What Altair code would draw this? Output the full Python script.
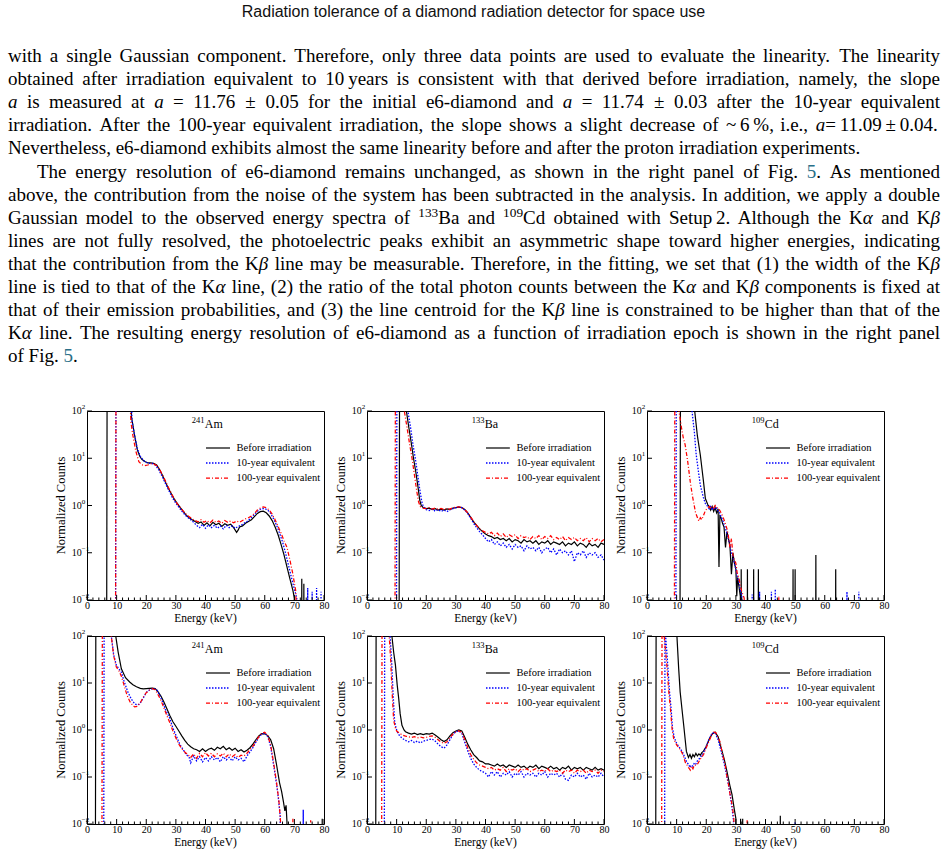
import altair as alt
import pandas as pd

# ---------------------------------------------------------------- spectra
LOW = 1e-4    # empty bins, fall below the 10^-2 floor
HIGH = 1e3    # saturated bins, rise above the 10^2 ceiling

SERIES = ["Before irradiation", "10-year equivalent", "100-year equivalent"]
COLORS = ["#000000", "#0000ff", "#ff0000"]
DASHES = [None, [1.5, 1.5], [4, 2, 1, 2]]
WIDTHS = [1.2, 1.3, 1.25]

# 241Am, upper row
AM1_BEFORE = [(6.6, LOW), (6.8, HIGH), (14.5, HIGH), (15.0, 75), (15.5, 50), (16, 32), (17, 15), (17.8, 11), (18.5, 9.5), (19.5, 8.5), (20.5, 8.0), (21.5, 8.0), (22.5, 7.8), (23.5, 7.2), (24.5, 5.8), (25.5, 4.3), (26.5, 3.1), (27.5, 2.3), (28.5, 1.75), (29.5, 1.35), (30.5, 1.1), (31.5, 0.9), (32.5, 0.75), (33.5, 0.62), (34.5, 0.55), (35.5, 0.5), (36.5, 0.46), (37.5, 0.42), (38.5, 0.45), (39.5, 0.38), (40.5, 0.43), (41.5, 0.37), (42.5, 0.44), (43.5, 0.39), (44.5, 0.42), (45.5, 0.36), (46.5, 0.41), (47.5, 0.38), (48.5, 0.40), (49.5, 0.34), (50.5, 0.27), (51.0, 0.30), (51.5, 0.35), (52.5, 0.37), (53.5, 0.42), (54.5, 0.46), (55.5, 0.5), (56.5, 0.58), (57.5, 0.68), (58.5, 0.74), (59.5, 0.76), (60.5, 0.7), (61.5, 0.6), (62.5, 0.48), (63.5, 0.35), (64.5, 0.24), (65.5, 0.15), (66.5, 0.09), (67.5, 0.05), (68.5, 0.028), (69.5, 0.016), (70.0, 0.011), (70.2, LOW), (72.4, LOW), (72.5, 0.028), (72.6, LOW), (73.1, LOW), (73.2, 0.022), (73.3, LOW), (80, LOW)]
AM1_10Y = [(9.6, LOW), (9.8, HIGH), (14.6, HIGH), (15.2, 60), (16, 32), (17, 16), (18, 11), (19, 9), (20, 8.2), (21, 7.8), (22, 7.8), (23, 7.2), (24, 6.0), (25, 4.6), (26, 3.4), (27, 2.5), (28, 1.85), (29, 1.4), (30, 1.12), (31, 0.92), (32, 0.76), (33, 0.64), (34, 0.56), (35, 0.5), (36, 0.44), (37, 0.38), (38, 0.34), (39, 0.4), (40, 0.33), (41, 0.39), (42, 0.34), (43, 0.38), (44, 0.33), (45, 0.37), (46, 0.32), (47, 0.38), (48, 0.34), (49, 0.37), (50, 0.33), (51, 0.36), (52, 0.38), (53, 0.42), (54, 0.46), (55, 0.52), (56, 0.6), (57, 0.7), (58, 0.8), (59, 0.86), (60, 0.86), (61, 0.8), (62, 0.68), (63, 0.52), (64, 0.38), (65, 0.26), (66, 0.17), (67, 0.1), (68, 0.055), (69, 0.03), (70, 0.017), (70.8, 0.011), (71, LOW), (74.4, LOW), (74.5, 0.018), (74.6, LOW), (75.9, LOW), (76.0, 0.015), (76.1, LOW), (77.4, LOW), (77.5, 0.018), (77.6, LOW), (78.9, LOW), (79.0, 0.015), (79.1, LOW), (80, LOW)]
AM1_100Y = [(9.6, LOW), (9.8, HIGH), (14.2, HIGH), (14.8, 60), (15.5, 30), (16.5, 14), (17.5, 8.5), (18.5, 7.3), (19.5, 7.0), (20.5, 7.2), (21.5, 7.6), (22.5, 7.6), (23.5, 7.0), (24.5, 5.8), (25.5, 4.4), (26.5, 3.3), (27.5, 2.4), (28.5, 1.8), (29.5, 1.35), (30.5, 1.08), (31.5, 0.9), (32.5, 0.76), (33.5, 0.65), (34.5, 0.58), (35.5, 0.52), (36.5, 0.48), (37.5, 0.45), (38.5, 0.5), (39.5, 0.44), (40.5, 0.48), (41.5, 0.43), (42.5, 0.49), (43.5, 0.44), (44.5, 0.47), (45.5, 0.42), (46.5, 0.48), (47.5, 0.44), (48.5, 0.47), (49.5, 0.43), (50.5, 0.47), (51.5, 0.44), (52.5, 0.48), (53.5, 0.52), (54.5, 0.55), (55.5, 0.6), (56.5, 0.68), (57.5, 0.8), (58.5, 0.88), (59.5, 0.93), (60.5, 0.9), (61.5, 0.8), (62.5, 0.66), (63.5, 0.5), (64.5, 0.36), (65.5, 0.26), (66.5, 0.18), (67.5, 0.13), (68.5, 0.07), (69.5, 0.035), (70.5, 0.015), (71, LOW), (80, LOW)]

# 133Ba, upper row
BA1_BEFORE = [(10.8, LOW), (11.0, HIGH), (13.1, HIGH), (13.3, 100), (14, 50), (15, 20), (15.7, 10), (16.5, 5), (17.2, 2.5), (17.8, 1.3), (18.3, 1.0), (19, 0.9), (20, 0.86), (21, 0.88), (22, 0.82), (23, 0.86), (24, 0.8), (25, 0.84), (26, 0.8), (27, 0.85), (28, 0.82), (29, 0.88), (30, 0.9), (31, 0.92), (32, 0.9), (33, 0.82), (34, 0.7), (35, 0.56), (36, 0.45), (37, 0.38), (38, 0.32), (39, 0.28), (40, 0.25), (41, 0.23), (42, 0.22), (43, 0.2), (44, 0.21), (45, 0.19), (46, 0.2), (47, 0.18), (48, 0.2), (49, 0.17), (50, 0.19), (51, 0.18), (52, 0.16), (53, 0.19), (54, 0.17), (55, 0.18), (56, 0.16), (57, 0.18), (58, 0.15), (59, 0.17), (60, 0.16), (61, 0.18), (62, 0.15), (63, 0.17), (64, 0.16), (65, 0.15), (66, 0.17), (67, 0.14), (68, 0.16), (69, 0.15), (70, 0.17), (71, 0.14), (72, 0.16), (73, 0.15), (74, 0.13), (75, 0.16), (76, 0.14), (77, 0.15), (78, 0.13), (79, 0.16), (80, 0.15)]
BA1_10Y = [(9.9, LOW), (10.1, HIGH), (13.6, HIGH), (13.8, 100), (14.7, 45), (15.6, 18), (16.3, 10), (17, 5), (17.8, 2.2), (18.5, 1.2), (19, 0.95), (20, 0.82), (21, 0.78), (22, 0.84), (23, 0.76), (24, 0.82), (25, 0.75), (26, 0.8), (27, 0.74), (28, 0.82), (29, 0.86), (30, 0.9), (31, 0.93), (32, 0.9), (33, 0.8), (34, 0.68), (35, 0.54), (36, 0.42), (37, 0.34), (38, 0.28), (39, 0.24), (40, 0.2), (41, 0.17), (42, 0.19), (43, 0.15), (44, 0.17), (45, 0.14), (46, 0.16), (47, 0.13), (48, 0.15), (49, 0.12), (50, 0.15), (51, 0.13), (52, 0.14), (53, 0.11), (54, 0.14), (55, 0.12), (56, 0.13), (57, 0.11), (58, 0.13), (59, 0.1), (60, 0.12), (61, 0.13), (62, 0.1), (63, 0.12), (64, 0.09), (65, 0.12), (66, 0.1), (67, 0.11), (68, 0.09), (69, 0.11), (70, 0.065), (71, 0.1), (72, 0.09), (73, 0.11), (74, 0.08), (75, 0.1), (76, 0.09), (77, 0.1), (78, 0.08), (79, 0.09), (80, 0.07)]
BA1_100Y = [(9.4, LOW), (9.6, HIGH), (12.4, HIGH), (12.6, 100), (13.5, 45), (14.5, 18), (15.2, 10), (16, 4.5), (16.8, 2.0), (17.4, 1.2), (18, 0.95), (19, 0.88), (20, 0.86), (21, 0.9), (22, 0.84), (23, 0.88), (24, 0.83), (25, 0.87), (26, 0.82), (27, 0.86), (28, 0.84), (29, 0.9), (30, 0.92), (31, 0.94), (32, 0.9), (33, 0.82), (34, 0.7), (35, 0.57), (36, 0.46), (37, 0.38), (38, 0.32), (39, 0.29), (40, 0.27), (41, 0.25), (42, 0.27), (43, 0.23), (44, 0.26), (45, 0.22), (46, 0.25), (47, 0.21), (48, 0.24), (49, 0.22), (50, 0.24), (51, 0.2), (52, 0.23), (53, 0.21), (54, 0.22), (55, 0.19), (56, 0.22), (57, 0.2), (58, 0.23), (59, 0.19), (60, 0.22), (61, 0.2), (62, 0.23), (63, 0.19), (64, 0.21), (65, 0.19), (66, 0.22), (67, 0.18), (68, 0.21), (69, 0.19), (70, 0.21), (71, 0.18), (72, 0.2), (73, 0.18), (74, 0.21), (75, 0.17), (76, 0.2), (77, 0.18), (78, 0.2), (79, 0.17), (80, 0.19)]

# 109Cd, upper row
CD1_BEFORE = [(11.1, LOW), (11.3, HIGH), (15.9, HIGH), (16.1, 100), (17, 30), (18, 11.7), (19, 3.5), (19.7, 1.4), (20.5, 1.05), (21, 0.95), (21.5, 0.8), (22, 0.95), (22.5, 0.75), (23, 0.9), (23.5, 0.7), (24, 0.85), (24.3, 0.05), (24.6, 0.6), (25, 0.55), (25.5, 0.42), (26, 0.35), (26.5, 0.13), (27, 0.28), (27.5, 0.2), (28, 0.14), (28.5, 0.035), (29, 0.1), (29.5, 0.06), (30, 0.045), (30.3, 0.012), (30.6, 0.03), (31, 0.02), (31.5, 0.012), (31.7, LOW), (31.8, 0.045), (31.9, LOW), (33.8, LOW), (33.9, 0.045), (34.0, LOW), (35.9, LOW), (36.0, 0.045), (36.1, LOW), (37.5, LOW), (37.6, 0.045), (37.7, LOW), (49.2, LOW), (49.3, 0.045), (49.4, LOW), (49.9, LOW), (50.0, 0.045), (50.1, LOW), (56.9, LOW), (57.0, 0.09), (57.1, LOW), (63.6, LOW), (63.7, 0.045), (63.8, LOW), (80, LOW)]
CD1_10Y = [(9.7, LOW), (9.9, HIGH), (15.0, HIGH), (15.2, 100), (16, 35), (16.6, 12), (17.4, 5), (18, 2.7), (19, 1.5), (19.7, 1.1), (20.5, 0.95), (21, 0.85), (21.5, 0.95), (22, 0.8), (22.5, 0.92), (23, 0.82), (23.5, 0.88), (24, 0.75), (24.5, 0.7), (25, 0.58), (25.5, 0.5), (26, 0.4), (26.5, 0.33), (27, 0.25), (27.5, 0.19), (28, 0.14), (28.5, 0.1), (29, 0.08), (29.5, 0.06), (30, 0.045), (30.5, 0.03), (31, 0.025), (31.5, 0.016), (32, 0.012), (32.3, LOW), (35.4, LOW), (35.5, 0.013), (35.6, LOW), (37.9, LOW), (38.0, 0.015), (38.1, LOW), (41.9, LOW), (42.0, 0.015), (42.1, LOW), (43.2, LOW), (43.3, 0.017), (43.4, LOW), (67.4, LOW), (67.5, 0.015), (67.6, LOW), (71.4, LOW), (71.5, 0.015), (71.6, LOW), (80, LOW)]
CD1_100Y = [(9.2, LOW), (9.4, HIGH), (10.5, HIGH), (10.8, 100), (11.5, 50), (12.2, 28), (12.9, 19), (13.8, 8), (14.6, 3.2), (15.2, 1.8), (15.7, 1.2), (16.4, 0.7), (17.1, 0.54), (17.5, 0.47), (18, 0.55), (18.5, 0.5), (19.1, 0.62), (19.6, 0.75), (20.2, 0.86), (21, 0.95), (21.5, 0.85), (22, 0.95), (22.5, 0.88), (23, 1.0), (23.5, 0.9), (24, 0.88), (24.5, 0.8), (25, 0.7), (25.5, 0.6), (26, 0.5), (26.5, 0.4), (27, 0.32), (27.5, 0.22), (28, 0.13), (28.5, 0.2), (29, 0.09), (29.5, 0.07), (30, 0.06), (30.5, 0.035), (31, 0.03), (31.5, 0.02), (32, 0.015), (32.8, 0.011), (33.0, LOW), (44.4, LOW), (44.5, 0.012), (44.6, LOW), (80, LOW)]

# 241Am, lower row
AM2_BEFORE = [(2.8, LOW), (3.0, HIGH), (9.5, HIGH), (9.7, 100), (10.5, 46), (11.6, 20), (13, 13), (14.4, 10.5), (15.5, 9.2), (16.7, 8.3), (18, 7.7), (19, 7.5), (20, 7.6), (21, 7.7), (22, 7.8), (23, 7.6), (24, 6.5), (25, 5.2), (26, 3.9), (27, 2.8), (28, 2.0), (29, 1.5), (30, 1.2), (31, 0.95), (32, 0.75), (33, 0.6), (34, 0.5), (35, 0.44), (36, 0.4), (37, 0.38), (38, 0.35), (39, 0.4), (40, 0.35), (41, 0.39), (42, 0.41), (43, 0.37), (44, 0.43), (45, 0.4), (46, 0.45), (47, 0.38), (48, 0.42), (49, 0.37), (50, 0.41), (51, 0.35), (52, 0.38), (53, 0.34), (54, 0.37), (55, 0.42), (56, 0.5), (57, 0.62), (58, 0.75), (59, 0.84), (60, 0.83), (61, 0.76), (62, 0.62), (63, 0.4), (64, 0.18), (65, 0.075), (65.7, 0.049), (66.3, 0.03), (66.8, 0.019), (67.2, 0.025), (67.5, 0.011), (67.7, LOW), (79.3, LOW), (79.4, 0.013), (79.5, LOW), (80, LOW)]
AM2_10Y = [(5.6, LOW), (5.8, HIGH), (8.0, HIGH), (8.2, 100), (9, 40), (9.9, 24), (10.8, 20), (11.6, 17), (12.5, 11), (13.8, 6.4), (15, 4.5), (16.1, 3.6), (17, 3.4), (17.8, 3.6), (19, 4.8), (20.1, 6.4), (21.2, 7.2), (22.3, 7.6), (23, 7.4), (23.7, 7.0), (24.5, 5.5), (25.5, 4.0), (26.5, 2.7), (27.9, 1.8), (29, 1.1), (30.2, 0.73), (31.3, 0.5), (32.5, 0.38), (33.5, 0.3), (34.5, 0.26), (35, 0.2), (36, 0.28), (37, 0.22), (38, 0.27), (39, 0.21), (40, 0.26), (41, 0.22), (42, 0.27), (43, 0.23), (44, 0.26), (45, 0.21), (46, 0.27), (47, 0.23), (48, 0.26), (49, 0.22), (50, 0.27), (51, 0.23), (52, 0.25), (53, 0.21), (54, 0.28), (55, 0.34), (56, 0.42), (57, 0.55), (58, 0.7), (59, 0.82), (60, 0.86), (61, 0.72), (62, 0.45), (63, 0.18), (64, 0.07), (64.6, 0.035), (65.2, 0.015), (65.5, LOW), (72.9, LOW), (73.0, 0.02), (73.1, LOW), (80, LOW)]
AM2_100Y = [(5.0, LOW), (5.2, HIGH), (8.0, HIGH), (8.2, 100), (9, 38), (9.9, 22), (10.8, 18), (11.6, 14), (12.5, 9), (13.5, 5.5), (14.5, 4.0), (15.5, 3.3), (16.1, 3.1), (17, 3.2), (18, 3.8), (19, 5.0), (20, 6.2), (21, 7.0), (22, 7.6), (23, 7.2), (24, 5.6), (25, 4.2), (26, 2.9), (27, 2.0), (28, 1.4), (29, 0.95), (30, 0.68), (31, 0.5), (32, 0.4), (33, 0.34), (34, 0.3), (35, 0.26), (36, 0.31), (37, 0.25), (38, 0.32), (39, 0.27), (40, 0.33), (41, 0.28), (42, 0.32), (43, 0.27), (44, 0.31), (45, 0.28), (46, 0.32), (47, 0.27), (48, 0.31), (49, 0.27), (50, 0.3), (51, 0.26), (52, 0.29), (53, 0.28), (54, 0.32), (55, 0.38), (56, 0.45), (57, 0.57), (58, 0.72), (59, 0.85), (60, 0.9), (61, 0.76), (62, 0.48), (63, 0.2), (64, 0.075), (64.8, 0.03), (65.3, 0.012), (65.6, LOW), (69.4, LOW), (69.5, 0.013), (69.6, LOW), (75.4, LOW), (75.5, 0.012), (75.6, LOW), (80, LOW)]

# 133Ba, lower row
BA2_BEFORE = [(2.9, LOW), (3.1, HIGH), (8.2, HIGH), (8.4, 100), (9, 45), (9.6, 24), (10.2, 9), (10.7, 4.7), (11.2, 2.2), (11.8, 1.26), (12.5, 1.0), (13, 0.92), (14, 0.86), (15, 0.82), (16, 0.86), (17, 0.8), (18, 0.84), (19, 0.8), (20, 0.84), (21, 0.82), (22, 0.86), (23, 0.78), (24, 0.7), (25, 0.62), (26, 0.57), (27, 0.62), (28, 0.75), (29, 0.88), (30, 0.95), (31, 1.0), (32, 0.95), (33, 0.7), (34, 0.5), (35, 0.38), (36, 0.3), (37, 0.26), (38, 0.22), (39, 0.21), (40, 0.19), (41, 0.19), (42, 0.18), (43, 0.17), (44, 0.19), (45, 0.17), (46, 0.18), (47, 0.16), (48, 0.18), (49, 0.17), (50, 0.16), (51, 0.18), (52, 0.16), (53, 0.17), (54, 0.15), (55, 0.17), (56, 0.16), (57, 0.18), (58, 0.15), (59, 0.17), (60, 0.16), (61, 0.15), (62, 0.17), (63, 0.15), (64, 0.16), (65, 0.14), (66, 0.16), (67, 0.15), (68, 0.17), (69, 0.14), (70, 0.16), (71, 0.15), (72, 0.16), (73, 0.14), (74, 0.16), (75, 0.15), (76, 0.14), (77, 0.16), (78, 0.14), (79, 0.15), (80, 0.14)]
BA2_10Y = [(5.8, LOW), (6.0, HIGH), (7.6, HIGH), (7.8, 100), (8.3, 30), (8.8, 6), (9.3, 1.6), (9.8, 1.1), (10.3, 0.9), (11, 0.75), (12, 0.66), (13, 0.6), (14, 0.56), (15, 0.6), (16, 0.54), (17, 0.58), (18, 0.53), (19, 0.58), (20, 0.6), (21, 0.63), (22, 0.64), (23, 0.58), (24, 0.5), (25, 0.44), (26, 0.41), (27, 0.48), (28, 0.62), (29, 0.8), (30, 0.92), (31, 0.95), (32, 0.85), (33, 0.55), (34, 0.36), (35, 0.25), (36, 0.19), (37, 0.16), (38, 0.14), (39, 0.13), (40, 0.12), (41, 0.1), (42, 0.13), (43, 0.11), (44, 0.13), (45, 0.1), (46, 0.12), (47, 0.11), (48, 0.13), (49, 0.1), (50, 0.12), (51, 0.11), (52, 0.13), (53, 0.1), (54, 0.12), (55, 0.11), (56, 0.12), (57, 0.1), (58, 0.12), (59, 0.11), (60, 0.13), (61, 0.1), (62, 0.12), (63, 0.11), (64, 0.12), (65, 0.1), (66, 0.12), (67, 0.09), (68, 0.085), (69, 0.11), (70, 0.1), (71, 0.12), (72, 0.1), (73, 0.11), (74, 0.09), (75, 0.12), (76, 0.1), (77, 0.11), (78, 0.1), (79, 0.12), (80, 0.1)]
BA2_100Y = [(4.9, LOW), (5.1, HIGH), (7.3, HIGH), (7.5, 100), (8, 30), (8.5, 6), (9, 1.6), (9.6, 1.1), (10, 0.95), (11, 0.85), (12, 0.78), (13, 0.74), (14, 0.72), (15, 0.69), (16, 0.72), (17, 0.68), (18, 0.71), (19, 0.68), (20, 0.7), (21, 0.73), (22, 0.75), (23, 0.7), (24, 0.62), (25, 0.55), (26, 0.52), (27, 0.56), (28, 0.68), (29, 0.82), (30, 0.92), (31, 0.96), (32, 0.9), (33, 0.62), (34, 0.42), (35, 0.3), (36, 0.24), (37, 0.2), (38, 0.18), (39, 0.17), (40, 0.16), (41, 0.15), (42, 0.16), (43, 0.14), (44, 0.15), (45, 0.14), (46, 0.16), (47, 0.13), (48, 0.15), (49, 0.14), (50, 0.15), (51, 0.13), (52, 0.15), (53, 0.14), (54, 0.15), (55, 0.13), (56, 0.14), (57, 0.15), (58, 0.13), (59, 0.14), (60, 0.13), (61, 0.15), (62, 0.13), (63, 0.14), (64, 0.13), (65, 0.14), (66, 0.12), (67, 0.14), (68, 0.13), (69, 0.14), (70, 0.12), (71, 0.14), (72, 0.13), (73, 0.14), (74, 0.12), (75, 0.14), (76, 0.13), (77, 0.14), (78, 0.12), (79, 0.14), (80, 0.13)]

# 109Cd, lower row
CD2_BEFORE = [(2.9, LOW), (3.1, HIGH), (9.9, HIGH), (10.1, 100), (10.7, 20), (11.2, 6.4), (11.8, 2.8), (12.4, 1.25), (13.3, 0.35), (14, 0.26), (14.5, 0.3), (15, 0.25), (15.5, 0.3), (16, 0.27), (16.5, 0.32), (17, 0.28), (17.5, 0.31), (18, 0.29), (18.5, 0.33), (19, 0.35), (20, 0.45), (21, 0.64), (22, 0.82), (23, 0.9), (24, 0.72), (25, 0.42), (26, 0.25), (27, 0.13), (28, 0.065), (28.7, 0.042), (29.5, 0.02), (30, 0.013), (30.3, LOW), (31.5, LOW), (31.6, 0.013), (31.7, LOW), (32.2, LOW), (32.3, 0.013), (32.4, LOW), (44.9, LOW), (45.0, 0.015), (45.1, LOW), (80, LOW)]
CD2_10Y = [(5.9, LOW), (6.1, HIGH), (6.2, HIGH), (6.3, 100), (7, 24), (7.6, 6.5), (8.1, 3), (8.6, 1.1), (9.2, 0.7), (10, 0.52), (11, 0.42), (12, 0.34), (13, 0.24), (13.5, 0.2), (14, 0.19), (14.5, 0.16), (15, 0.18), (15.5, 0.17), (16, 0.2), (16.5, 0.19), (17, 0.22), (18, 0.26), (19, 0.32), (20, 0.45), (21, 0.65), (22, 0.86), (23, 0.88), (24, 0.62), (25, 0.36), (26, 0.2), (27, 0.1), (28, 0.045), (28.7, 0.022), (29.2, 0.012), (29.4, LOW), (49.9, LOW), (50.0, 0.011), (50.1, LOW), (80, LOW)]
CD2_100Y = [(4.9, LOW), (5.1, HIGH), (5.6, HIGH), (5.8, 100), (6.7, 24), (7.4, 6), (7.9, 2.9), (8.5, 1.0), (9, 0.66), (10, 0.48), (11, 0.4), (11.8, 0.33), (12.5, 0.25), (13, 0.2), (13.5, 0.18), (14, 0.16), (14.6, 0.14), (15, 0.17), (15.5, 0.15), (16, 0.18), (16.9, 0.18), (18, 0.24), (19.1, 0.3), (20, 0.42), (20.8, 0.55), (21.7, 0.75), (22.5, 0.9), (23.2, 0.88), (24, 0.7), (24.7, 0.55), (25.5, 0.3), (26.4, 0.18), (27, 0.1), (27.5, 0.07), (28.1, 0.04), (28.7, 0.026), (29.3, 0.014), (29.6, LOW), (33.7, LOW), (33.8, 0.012), (33.9, LOW), (80, LOW)]

# axis ticks and labels
X_LABELS = [0, 10, 20, 30, 40, 50, 60, 70, 80]
X_MINOR = [e for e in range(0, 81, 2) if e % 10]
DECADES = [0.01, 0.1, 1, 10, 100]
EXPONENTS = ["\u22122", "\u22121", "0", "1", "2"]

# ---------------------------------------------------------------- page text
HEADER = "Radiation tolerance of a diamond radiation detector for space use"

# {..} italic, ^123 superscript, [..] link colour; (text, indented, justified)
BODY = [
    ("with a single Gaussian component. Therefore, only three data points are used to evaluate the linearity. The linearity", False, True),
    ("obtained after irradiation equivalent to 10\u2009years is consistent with that derived before irradiation, namely, the slope", False, True),
    ("{a} is measured at {a} = 11.76 \u00b1 0.05 for the initial e6-diamond and {a} = 11.74 \u00b1 0.03 after the 10-year equivalent", False, True),
    ("irradiation. After the 100-year equivalent irradiation, the slope shows a slight decrease of ~\u20096\u2009%, i.e., {a}\u2009=\u200911.09\u2009\u00b1\u20090.04.", False, True),
    ("Nevertheless, e6-diamond exhibits almost the same linearity before and after the proton irradiation experiments.", False, False),
    ("The energy resolution of e6-diamond remains unchanged, as shown in the right panel of Fig. [5]. As mentioned", True, True),
    ("above, the contribution from the noise of the system has been subtracted in the analysis. In addition, we apply a double", False, True),
    ("Gaussian model to the observed energy spectra of ^133Ba and ^109Cd obtained with Setup\u20092. Although the K{\u03b1} and K{\u03b2}", False, True),
    ("lines are not fully resolved, the photoelectric peaks exhibit an asymmetric shape toward higher energies, indicating", False, True),
    ("that the contribution from the K{\u03b2} line may be measurable. Therefore, in the fitting, we set that (1) the width of the K{\u03b2}", False, True),
    ("line is tied to that of the K{\u03b1} line, (2) the ratio of the total photon counts between the K{\u03b1} and K{\u03b2} components is fixed at", False, True),
    ("that of their emission probabilities, and (3) the line centroid for the K{\u03b2} line is constrained to be higher than that of the", False, True),
    ("K{\u03b1} line. The resulting energy resolution of e6-diamond as a function of irradiation epoch is shown in the right panel", False, True),
    ("of Fig. [5].", False, False),
]

# ---------------------------------------------------------------- layout
PAGE_W, PAGE_H = 947, 853
PLOT_W = 237
ROW_H = [189, 188]
GRID_TOP = 411          # page y of the first row of plots
LEFT_CELL = 44          # blank first column, carries the page text
COL_GAP, ROW_GAP = 43, 36

TEXT_LEFT, TEXT_RIGHT, INDENT = 8, 940, 29
FIRST_BASELINE, LEADING = 62, 23.1
SUP_SCALE, SUP_RISE = 0.7, 0.36
MIN_GAP_EM, MAX_FS = 0.14, 19.0
LINK_COLOR = "#2a6f88"
SERIF = "Liberation Serif"

# Times-compatible advance widths (1/1000 em)
ROMAN = {" ": 250, "\u2009": 167, "%": 833, "(": 333, ")": 333, ",": 250, "-": 333,
         ".": 250, "=": 564, "~": 541, "\u00b1": 564, "\u03b1": 530, "\u03b2": 500}
ROMAN.update({d: 500 for d in "0123456789"})
ROMAN.update(dict(zip("ABCDEFGHIJKLMNOPQRSTUVWXYZ",
                      [722, 667, 667, 722, 611, 556, 722, 722, 333, 389, 722, 611, 889,
                       722, 722, 556, 722, 667, 556, 611, 722, 722, 944, 722, 722, 611])))
ROMAN.update(dict(zip("abcdefghijklmnopqrstuvwxyz",
                      [444, 500, 444, 500, 444, 333, 500, 500, 278, 278, 500, 278, 778,
                       500, 500, 500, 500, 333, 389, 278, 500, 500, 722, 500, 500, 444])))
ITALIC = {"a": 500, "\u03b1": 540, "\u03b2": 500}


def segments(word):
    segs, buf, i = [], "", 0
    while i < len(word):
        c = word[i]
        if c in "{[":
            j = word.index("}" if c == "{" else "]", i)
            if buf:
                segs.append((buf, "rm"))
                buf = ""
            segs.append((word[i + 1:j], "it" if c == "{" else "link"))
            i = j + 1
        elif c == "^":
            j = i + 1
            while j < len(word) and word[j].isdigit():
                j += 1
            if buf:
                segs.append((buf, "rm"))
                buf = ""
            segs.append((word[i + 1:j], "sup"))
            i = j
        else:
            buf += c
            i += 1
    if buf:
        segs.append((buf, "rm"))
    return segs


def seg_width(text, kind, fs):
    table = ITALIC if kind == "it" else ROMAN
    size = fs * SUP_SCALE if kind == "sup" else fs
    return sum(table.get(ch, ROMAN.get(ch, 500)) for ch in text) / 1000.0 * size


def word_width(word, fs):
    return sum(seg_width(t, k, fs) for t, k in segments(word))


# font size: largest that still leaves a word gap on the tightest line
fits = []
for text, indented, justified in BODY:
    if justified:
        words = text.split(" ")
        span = TEXT_RIGHT - TEXT_LEFT - (INDENT if indented else 0)
        fits.append(span / (sum(word_width(w, 1.0) for w in words) + MIN_GAP_EM * (len(words) - 1)))
BODY_FS = min([MAX_FS] + fits)

rows = []
for k, (text, indented, justified) in enumerate(BODY):
    words = text.split(" ")
    left = TEXT_LEFT + (INDENT if indented else 0)
    widths = [word_width(w, BODY_FS) for w in words]
    if justified and len(words) > 1:
        gap = (TEXT_RIGHT - left - sum(widths)) / (len(words) - 1)
    else:
        gap = ROMAN[" "] / 1000.0 * BODY_FS
    base = FIRST_BASELINE + LEADING * k - GRID_TOP
    x = left
    for w, ww in zip(words, widths):
        for t, kind in segments(w):
            rows.append({
                "px": x,
                "py": base - (SUP_RISE * BODY_FS if kind == "sup" else 0),
                "txt": t,
                "fs": BODY_FS * (SUP_SCALE if kind == "sup" else 1),
                "col": LINK_COLOR if kind == "link" else "#000000",
                "it": 1 if kind == "it" else 0,
            })
            x += seg_width(t, kind, BODY_FS)
        x += gap
tokens = pd.DataFrame(rows)

ONE = pd.DataFrame({"k": [0]})


def text_layer(italic):
    return alt.Chart(tokens).transform_filter(alt.datum.it == italic).mark_text(
        font=SERIF, align="left", baseline="alphabetic",
        fontStyle="italic" if italic else "normal",
    ).encode(
        x=alt.X("px:Q", scale=None, axis=None),
        y=alt.Y("py:Q", scale=None, axis=None),
        text="txt:N",
        size=alt.Size("fs:Q", scale=None, legend=None),
        color=alt.Color("col:N", scale=None, legend=None),
    )


page_bg = alt.Chart(ONE).mark_rect(color="white").encode(
    x=alt.value(0), x2=alt.value(PAGE_W),
    y=alt.value(-GRID_TOP), y2=alt.value(PAGE_H - GRID_TOP),
)
header = alt.Chart(ONE).mark_text(
    font="Liberation Sans", fontSize=16, align="center", baseline="alphabetic", color="#111111"
).encode(x=alt.value(PAGE_W / 2), y=alt.value(17 - GRID_TOP), text=alt.value(HEADER))

page_cell = alt.layer(page_bg, header, text_layer(0), text_layer(1)).properties(
    width=LEFT_CELL, height=ROW_H[0]
)
blank_cell = alt.Chart(ONE).mark_text(text="").encode(
    x=alt.value(0), y=alt.value(0)
).properties(width=LEFT_CELL, height=ROW_H[1])

# ---------------------------------------------------------------- panels
XS = alt.Scale(domain=[0, 80], nice=False, zero=False)
YS = alt.Scale(type="log", domain=[0.01, 100], nice=False)
X_AXIS = alt.Axis(values=X_LABELS, labels=True, ticks=False, tickSize=0, domain=False,
                  grid=False, labelPadding=0, labelFlush=False, labelOverlap=False,
                  labelFont=SERIF, labelFontSize=10, labelColor="black", title=None)
LEGEND_Y = [37, 52, 67]


def panel(curves, mass, element, h):
    xe = alt.X("E:Q", scale=XS, axis=X_AXIS)
    ye = alt.Y("C:Q", scale=YS, axis=None)
    layers = []
    for pts, color, dash, width in zip(curves, COLORS, DASHES, WIDTHS):
        kw = dict(color=color, strokeWidth=width, clip=True)
        if dash:
            kw["strokeDash"] = dash
        layers.append(alt.Chart(pd.DataFrame(pts, columns=["E", "C"])).mark_line(**kw)
                      .encode(x=xe, y=ye))
    # inward ticks
    layers.append(alt.Chart(pd.DataFrame({"E": X_LABELS})).mark_rule(color="black", strokeWidth=1)
                  .encode(x=xe, y=alt.value(h), y2=alt.value(h - 5)))
    layers.append(alt.Chart(pd.DataFrame({"E": X_MINOR})).mark_rule(color="black", strokeWidth=1)
                  .encode(x=xe, y=alt.value(h), y2=alt.value(h - 2.5)))
    dec = pd.DataFrame({"C": DECADES, "exp": EXPONENTS})
    layers.append(alt.Chart(dec).mark_rule(color="black", strokeWidth=1)
                  .encode(y=ye, x=alt.value(0), x2=alt.value(5)))
    # decade labels 10^n
    layers.append(alt.Chart(dec).mark_text(font=SERIF, fontSize=10, align="right",
                                           baseline="middle", color="black")
                  .encode(y=ye, x=alt.value(-5.3), text=alt.value("10")))
    layers.append(alt.Chart(dec).mark_text(font=SERIF, fontSize=7, align="left",
                                           baseline="middle", dy=-4, color="black")
                  .encode(y=ye, x=alt.value(-5.3), text="exp:N"))
    # axis titles
    layers.append(alt.Chart(ONE).mark_text(font=SERIF, fontSize=12.5, angle=270, align="center",
                                           baseline="middle", color="black")
                  .encode(x=alt.value(-26), y=alt.value(h / 2), text=alt.value("Normalized Counts")))
    layers.append(alt.Chart(ONE).mark_text(font=SERIF, fontSize=11.5, align="center",
                                           baseline="middle", color="black")
                  .encode(x=alt.value(PLOT_W / 2), y=alt.value(h + 18.5), text=alt.value("Energy (keV)")))
    # isotope
    layers.append(alt.Chart(ONE).mark_text(font=SERIF, fontSize=8.5, align="right",
                                           baseline="alphabetic", color="black")
                  .encode(x=alt.value(117.5), y=alt.value(12), text=alt.value(mass)))
    layers.append(alt.Chart(ONE).mark_text(font=SERIF, fontSize=12, align="left",
                                           baseline="alphabetic", color="black")
                  .encode(x=alt.value(117.8), y=alt.value(16.5), text=alt.value(element)))
    # legend
    for name, color, dash, width, ly in zip(SERIES, COLORS, DASHES, WIDTHS, LEGEND_Y):
        kw = dict(color=color, strokeWidth=width)
        if dash:
            kw["strokeDash"] = dash
        layers.append(alt.Chart(ONE).mark_rule(**kw).encode(
            x=alt.value(119), x2=alt.value(143), y=alt.value(ly)))
        layers.append(alt.Chart(ONE).mark_text(font=SERIF, fontSize=10.5, align="left",
                                               baseline="middle", color="black")
                      .encode(x=alt.value(149.5), y=alt.value(ly), text=alt.value(name)))
    return alt.layer(*layers).properties(
        width=PLOT_W, height=h,
        view=alt.ViewBackground(stroke="black", strokeWidth=1),
    )


am1 = panel([AM1_BEFORE, AM1_10Y, AM1_100Y], "241", "Am", ROW_H[0])
ba1 = panel([BA1_BEFORE, BA1_10Y, BA1_100Y], "133", "Ba", ROW_H[0])
cd1 = panel([CD1_BEFORE, CD1_10Y, CD1_100Y], "109", "Cd", ROW_H[0])
am2 = panel([AM2_BEFORE, AM2_10Y, AM2_100Y], "241", "Am", ROW_H[1])
ba2 = panel([BA2_BEFORE, BA2_10Y, BA2_100Y], "133", "Ba", ROW_H[1])
cd2 = panel([CD2_BEFORE, CD2_10Y, CD2_100Y], "109", "Cd", ROW_H[1])

chart = alt.concat(
    page_cell, am1, ba1, cd1,
    blank_cell, am2, ba2, cd2,
    columns=4,
    spacing={"row": ROW_GAP, "column": COL_GAP},
    bounds="flush",
).properties(padding=0, background="white").configure_view(strokeWidth=0)

chart.save("out.html", embed_options={"renderer": "svg", "actions": False})
